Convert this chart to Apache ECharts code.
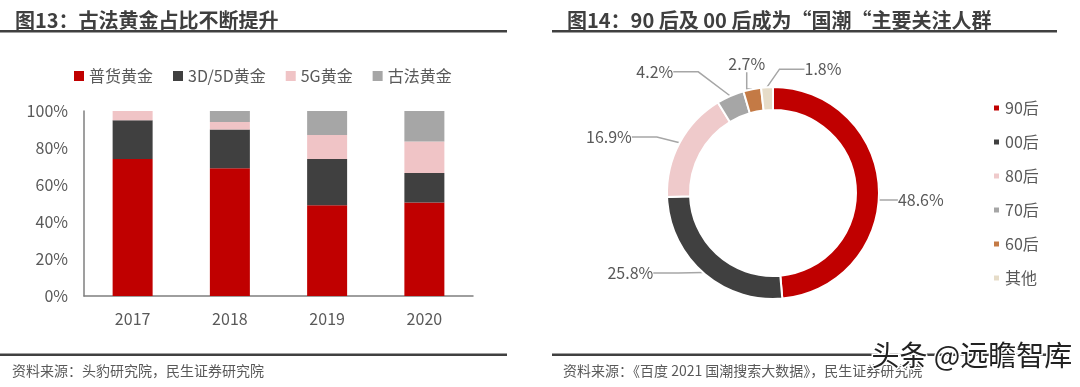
<!DOCTYPE html>
<html><head><meta charset="utf-8">
<script src="https://cdn.jsdelivr.net/npm/echarts@6/dist/echarts.min.js"></script>
<style>html,body{margin:0;padding:0;background:#fff}#c{width:1080px;height:387px}</style>
</head><body><div id="c"></div>
<script>
const years = ['2017', '2018', '2019', '2020'];
const seriesNames = ['普货黄金', '3D/5D黄金', '5G黄金', '古法黄金'];
const puhuo = [74, 69, 49, 50.5];
const d3d5d = [21, 21, 25, 16];
const g5 = [5, 4, 13, 17];
const gufa = [0, 6, 13, 16.5];
const yTicks = [0, 20, 40, 60, 80, 100];

const groups = ['90后', '00后', '80后', '70后', '60后', '其他'];
const shares = [48.6, 25.8, 16.9, 4.2, 2.7, 1.8];

const barColors = ['#C00000', '#404040', '#F0C4C6', '#A6A6A6'];
const pieColors = ['#C00000', '#404040', '#EFCACB', '#A6A6A6', '#C47A45', '#E6DCC8'];
const FONT = '"Noto Sans CJK SC", "Noto Sans", sans-serif';
const TXT = '#595959';

const chart = echarts.init(document.getElementById('c'));
const barData = [puhuo, d3d5d, g5, gufa];

chart.setOption({
  animation: false,
  textStyle: { fontFamily: FONT },
  title: [
    { text: '图13：古法黄金占比不断提升', left: 10, top: 5, textStyle: { fontSize: 20, fontWeight: 'bold', color: '#3F3F3F', fontFamily: FONT } },
    { text: '图14：90 后及 00 后成为“国潮“主要关注人群', left: 562, top: 5, textStyle: { fontSize: 20, fontWeight: 'bold', color: '#3F3F3F', fontFamily: FONT } }
  ],
  legend: [
    {
      data: seriesNames, left: 69, top: 63, itemWidth: 10, itemHeight: 10, itemGap: 20, icon: 'rect',
      textStyle: { fontSize: 16, color: TXT, fontFamily: FONT }
    },
    {
      data: groups, orient: 'vertical', left: 987, top: 95, itemWidth: 7, itemHeight: 7, itemGap: 18, icon: 'rect',
      textStyle: { fontSize: 16, color: TXT, fontFamily: FONT }
    }
  ],
  grid: { left: 84, right: 607, top: 111, bottom: 91 },
  xAxis: {
    type: 'category', data: years,
    axisLine: { lineStyle: { color: '#7F7F7F', width: 1.5 } }, axisTick: { show: false },
    axisLabel: { fontSize: 16, color: TXT, margin: 15 }
  },
  yAxis: {
    type: 'value', min: yTicks[0], max: yTicks[yTicks.length - 1], interval: 20,
    axisLine: { show: true, lineStyle: { color: '#7F7F7F', width: 1.5 } }, axisTick: { show: false },
    splitLine: { show: false },
    axisLabel: { fontSize: 16, color: TXT, margin: 16, formatter: '{value}%' }
  },
  series: seriesNames.map((n, i) => ({
    name: n, type: 'bar', stack: 'a', barWidth: 40, data: barData[i],
    itemStyle: { color: barColors[i] }
  })).concat([{
    type: 'pie', radius: [83, 106], center: [773, 193], startAngle: 90, clockwise: true,
    avoidLabelOverlap: false,
    itemStyle: { borderColor: '#fff', borderWidth: 2 },
    label: { formatter: '{c}%', fontSize: 16, color: TXT, fontFamily: FONT },
    labelLine: { length: 10, length2: 25, lineStyle: { color: '#A6A6A6', width: 1.5 } },
    data: groups.map((g, i) => ({ name: g, value: shares[i], itemStyle: { color: pieColors[i] } })),
    labelLayout: function (p) {
      const adj = [[-21, 12], [-13, -7], [-9, -1], [-23, -15], [45, -15], [105, -8]];
      const a = adj[p.dataIndex];
      return { x: p.labelRect.x + a[0], y: p.labelRect.y + a[1], align: 'left', verticalAlign: 'top' };
    }
  }]),
  graphic: [
    { type: 'rect', shape: { x: 0, y: 30, width: 507, height: 2.5 }, style: { fill: '#404040' } },
    { type: 'rect', shape: { x: 552, y: 30, width: 505, height: 2.5 }, style: { fill: '#404040' } },
    { type: 'rect', shape: { x: 0, y: 353.5, width: 507, height: 2.5 }, style: { fill: '#404040' } },
    { type: 'rect', shape: { x: 552, y: 353.5, width: 505, height: 2.5 }, style: { fill: '#404040' } },
    { type: 'text', left: 12, top: 364, style: { text: '资料来源：头豹研究院，民生证券研究院', fontSize: 14, fill: TXT, fontFamily: FONT } },
    { type: 'text', left: 563, top: 364, style: { text: '资料来源：《百度 2021 国潮搜索大数据》，民生证券研究院', fontSize: 14, fill: TXT, fontFamily: FONT } },
    { type: 'text', left: 870, top: 340, z: 100, style: { text: '头条 @远瞻智库', fontSize: 28, fill: '#222', stroke: '#fff', lineWidth: 3, fontFamily: FONT } }
  ]
});
</script></body></html>
